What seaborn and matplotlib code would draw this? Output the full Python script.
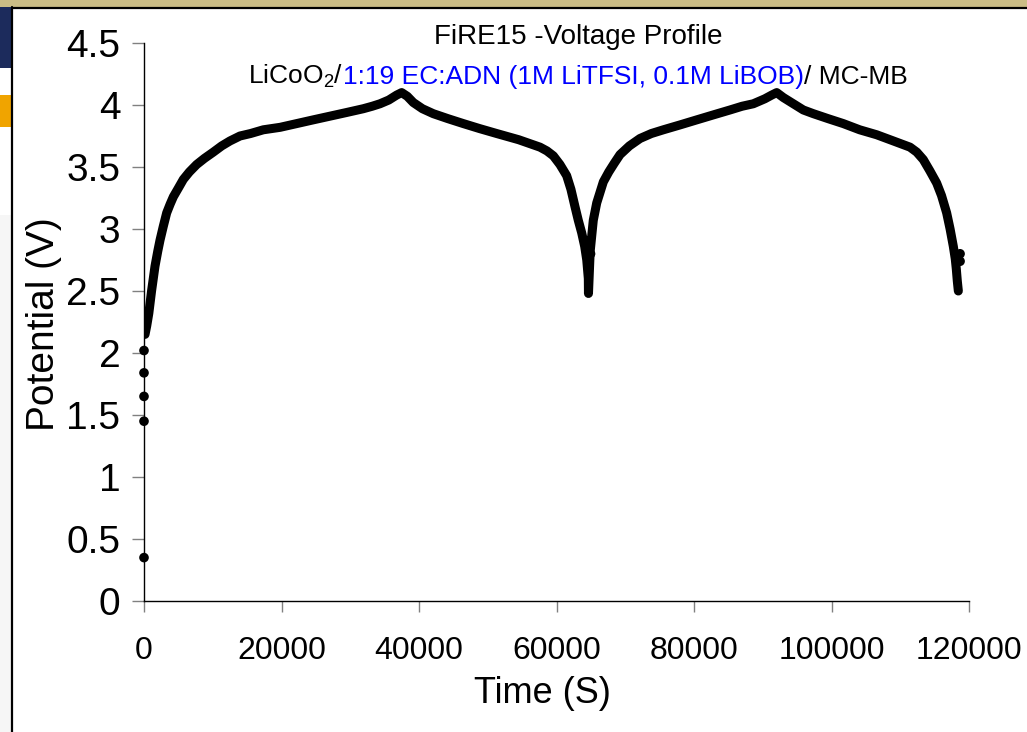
import numpy as np
import pandas as pd
import matplotlib
matplotlib.use("Agg")
import matplotlib.pyplot as plt
import seaborn as sns
from matplotlib.patches import Rectangle
from matplotlib.lines import Line2D

# ---------------- data ----------------
rest_t = [0, 0, 0, 0, 0]
rest_v = [0.35, 1.45, 1.65, 1.84, 2.02]

charge1_t = [150, 400, 700, 1100, 1600, 2000, 2330, 2800, 3300, 3800, 4270, 5000, 5720,
             6600, 7660, 8800, 10080, 11300, 12500, 13960, 15500, 17350, 19800, 22200,
             24600, 27050, 29500, 31900, 33200, 34330, 35600, 36750, 37480]
charge1_v = [2.15, 2.22, 2.32, 2.50, 2.70, 2.82, 2.91, 3.02, 3.13, 3.20, 3.26, 3.33, 3.40,
             3.46, 3.52, 3.57, 3.62, 3.67, 3.71, 3.75, 3.77, 3.80, 3.82, 3.85,
             3.88, 3.91, 3.94, 3.97, 3.99, 4.01, 4.04, 4.08, 4.10]

discharge1_t = [38300, 39170, 40500, 42080, 44200, 46450, 48800, 51300, 54500, 57600, 58600,
                59540, 60500, 61480, 62100, 62690, 63170, 63660, 64100, 64400, 64630, 64650]
discharge1_v = [4.07, 4.02, 3.97, 3.93, 3.89, 3.85, 3.81, 3.77, 3.72, 3.66, 3.63,
                3.59, 3.52, 3.43, 3.32, 3.18, 3.07, 2.97, 2.86, 2.75, 2.60, 2.48]

charge2_t = [64900, 65350, 65850, 66810, 67600, 68400, 69240, 70600, 72150, 73800, 75540,
             78000, 80390, 82800, 85240, 87000, 88630, 90300, 91300, 92030]
charge2_v = [2.82, 3.07, 3.21, 3.38, 3.46, 3.53, 3.60, 3.67, 3.73, 3.77, 3.80,
             3.84, 3.88, 3.92, 3.96, 3.99, 4.01, 4.05, 4.08, 4.10]

discharge2_t = [93000, 94450, 95900, 97360, 99500, 101720, 104100, 106570, 109000, 111420,
                112400, 113350, 114300, 115300, 116000, 116750, 117250, 117720, 118000,
                118150, 118300, 118450]
discharge2_v = [4.06, 4.01, 3.96, 3.93, 3.89, 3.85, 3.80, 3.76, 3.71, 3.66,
                3.62, 3.56, 3.47, 3.37, 3.27, 3.13, 3.00, 2.86, 2.76,
                2.68, 2.58, 2.50]

blip_t = [64950, 118700, 118700]
blip_v = [2.80, 2.80, 2.74]

x_ticks = [0, 20000, 40000, 60000, 80000, 100000, 120000]
y_ticks = [0, 0.5, 1, 1.5, 2, 2.5, 3, 3.5, 4, 4.5]
y_tick_labels = ["0", "0.5", "1", "1.5", "2", "2.5", "3", "3.5", "4", "4.5"]

title = "FiRE15 -Voltage Profile"
sub_parts = [("LiCoO$_2$/", "black"),
             ("1:19 EC:ADN (1M LiTFSI, 0.1M LiBOB)", "#0000ff"),
             ("/ MC-MB", "black")]

# ---------------- style ----------------
sns.set_theme(style="white")
plt.rcParams["font.family"] = ["Liberation Sans", "DejaVu Sans"]
plt.rcParams["mathtext.fontset"] = "custom"
plt.rcParams["mathtext.rm"] = "Liberation Sans"
plt.rcParams["mathtext.it"] = "Liberation Sans"
plt.rcParams["mathtext.default"] = "regular"

W, H = 1027, 732
fig = plt.figure(figsize=(W / 100, H / 100), dpi=100)
fig.patch.set_facecolor("white")

# slide decoration around the pasted chart
fig.add_artist(Rectangle((0, 1 - 7 / H), 1, 7 / H, transform=fig.transFigure,
                         facecolor="#cbbd86", edgecolor="none"))
fig.add_artist(Rectangle((0, 1 - 68 / H), 11 / W, 61 / H, transform=fig.transFigure,
                         facecolor="#1c2b5c", edgecolor="none"))
fig.add_artist(Rectangle((0, 1 - 127 / H), 11 / W, 32 / H, transform=fig.transFigure,
                         facecolor="#f0a400", edgecolor="none"))
fig.add_artist(Rectangle((0, 0), 11 / W, 1 - 215 / H, transform=fig.transFigure,
                         facecolor="#f6f6f6", edgecolor="none"))
fig.add_artist(Line2D([11.5 / W, 11.5 / W], [0, 1 - 7 / H], transform=fig.transFigure,
                      color="black", lw=1.6))
fig.add_artist(Line2D([11.5 / W, 1], [1 - 7.5 / H, 1 - 7.5 / H], transform=fig.transFigure,
                      color="black", lw=1.6))

left, right, bottom, top = 144 / W, 969 / W, 1 - 601 / H, 1 - 43 / H
ax = fig.add_axes([left, bottom, right - left, top - bottom])
ax.set_facecolor("none")

curve = pd.DataFrame({
    "Time": charge1_t + discharge1_t + charge2_t + discharge2_t,
    "Potential": charge1_v + discharge1_v + charge2_v + discharge2_v,
})
sns.lineplot(data=curve, x="Time", y="Potential", ax=ax, color="black", lw=6.5,
             sort=False, estimator=None, solid_capstyle="round", solid_joinstyle="round")

pts = pd.DataFrame({"Time": rest_t + blip_t, "Potential": rest_v + blip_v})
sns.scatterplot(data=pts, x="Time", y="Potential", ax=ax, color="black", s=48,
                edgecolor="none", clip_on=False, zorder=5)

ax.set_xlim(0, 120000)
ax.set_ylim(0, 4.5)
ax.set_xticks(x_ticks)
ax.set_xticklabels([str(v) for v in x_ticks], fontsize=23)
ax.set_yticks(y_ticks)
ax.set_yticklabels(y_tick_labels, fontsize=28)

for s in ["top", "right"]:
    ax.spines[s].set_visible(False)
for s in ["left", "bottom"]:
    ax.spines[s].set_color("black")
    ax.spines[s].set_linewidth(1.0)

ax.tick_params(axis="x", direction="out", length=8, width=1.0, color="#808080",
               pad=17, bottom=True, labelcolor="black")
ax.tick_params(axis="y", direction="out", length=9, width=1.0, color="#808080",
               pad=8, left=True, labelcolor="black")

ax.set_xlabel("Time (S)", fontsize=26, color="black")
ax.set_ylabel("Potential (V)", fontsize=28, color="black")
ax.xaxis.set_label_coords((542 - 144) / 825, -(676 - 601) / 558)
ax.yaxis.set_label_coords((62 - 144) / 825, (601 - 324) / 558)

# titles
cx = 578 / W
fig.text(cx, 1 - 44 / H, title, ha="center", va="baseline", fontsize=20, color="black")

fig.canvas.draw()
renderer = fig.canvas.get_renderer()
texts = []
x = 0.0
for txt, col in sub_parts:
    t = fig.text(x, 1 - 84 / H, txt, ha="left", va="baseline", fontsize=19, color=col)
    texts.append(t)
    fig.canvas.draw()
    bb = t.get_window_extent(renderer)
    x = bb.x1 / W
total = x
x0 = cx - total / 2
xx = x0
for t in texts:
    t.set_x(xx)
    fig.canvas.draw()
    bb = t.get_window_extent(renderer)
    xx = bb.x1 / W

fig.savefig("out.png", dpi=100, facecolor=fig.get_facecolor())
